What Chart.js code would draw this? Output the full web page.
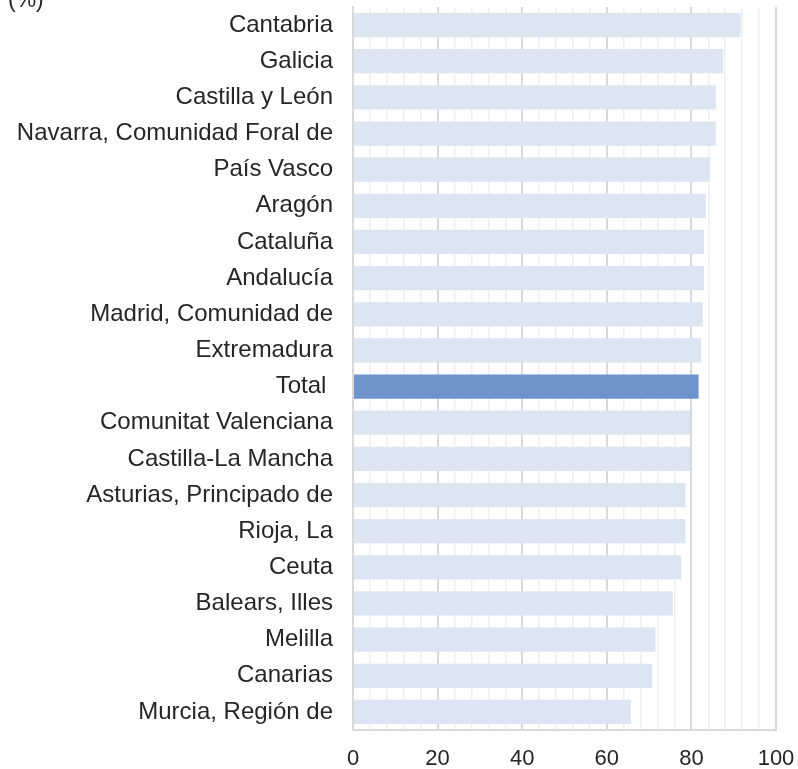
<!DOCTYPE html>
<html>
<head>
<meta charset="utf-8">
<script src="https://cdn.jsdelivr.net/npm/chart.js@4/dist/chart.umd.min.js"></script>
<style>
  html, body { margin: 0; padding: 0; background: #fff; }
  #wrap { position: relative; width: 798px; height: 769px; overflow: hidden; }
  #unit { position: absolute; left: 8px; top: -14px; font: 23px "Liberation Sans", Arial, sans-serif; color: #262626; }
</style>
</head>
<body>
<div id="wrap">
  <canvas id="chart" width="798" height="769"></canvas>
  <div id="unit">(%)</div>
</div>
<script>
// regions, top to bottom
const regions = [
    'Cantabria', 'Galicia', 'Castilla y León', 'Navarra, Comunidad Foral de', 'País Vasco',
    'Aragón', 'Cataluña', 'Andalucía', 'Madrid, Comunidad de', 'Extremadura',
    'Total ', 'Comunitat Valenciana', 'Castilla-La Mancha', 'Asturias, Principado de', 'Rioja, La',
    'Ceuta', 'Balears, Illes', 'Melilla', 'Canarias', 'Murcia, Región de'
];
const values = [
    91.6, 87.5, 85.8, 85.8, 84.4,
    83.4, 83.0, 83.0, 82.7, 82.3,
    81.7, 79.7, 79.7, 78.6, 78.6,
    77.6, 75.6, 71.5, 70.8, 65.7
];
const xTickLabels = [0, 20, 40, 60, 80, 100];

const barColors = regions.map(r => r.trim() === 'Total' ? '#6f93cd' : '#dce6f2');

new Chart(document.getElementById('chart'), {
    type: 'bar',
    data: {
        labels: regions,
        datasets: [{
            data: values,
            backgroundColor: barColors,
            borderWidth: 0,
            barPercentage: 0.67,
            categoryPercentage: 1
        }]
    },
    options: {
        indexAxis: 'y',
        responsive: false,
        animation: false,
        layout: { padding: { top: 7, right: 22, left: 0, bottom: 0 } },
        plugins: {
            legend: { display: false },
            tooltip: { enabled: false }
        },
        scales: {
            x: {
                min: 0,
                max: 100,
                ticks: {
                    stepSize: 4,
                    autoSkip: false,
                    maxRotation: 0,
                    padding: 16,
                    color: '#262626',
                    font: { family: '"Liberation Sans", Arial, sans-serif', size: 22 },
                    callback: v => xTickLabels.includes(v) ? String(v) : ''
                },
                grid: {
                    drawTicks: false,
                    color: ctx => ctx.tick && ctx.tick.value % 20 === 0 ? '#d9d9d9' : '#efefef',
                    lineWidth: ctx => ctx.tick && ctx.tick.value % 20 === 0 ? 2 : 1.5
                },
                border: { display: true, color: '#d9d9d9', width: 2 },
                afterFit: scale => { scale.height = 39; scale.paddingLeft = 0; scale.paddingRight = 0; }
            },
            y: {
                ticks: {
                    padding: 20,
                    color: '#262626',
                    font: { family: '"Liberation Sans", Arial, sans-serif', size: 24 }
                },
                grid: { display: false, drawTicks: false },
                border: { display: true, color: '#d9d9d9', width: 2 },
                afterFit: scale => { scale.width = 353; scale.paddingTop = 0; scale.paddingBottom = 0; }
            }
        }
    }
});
</script>
</body>
</html>
